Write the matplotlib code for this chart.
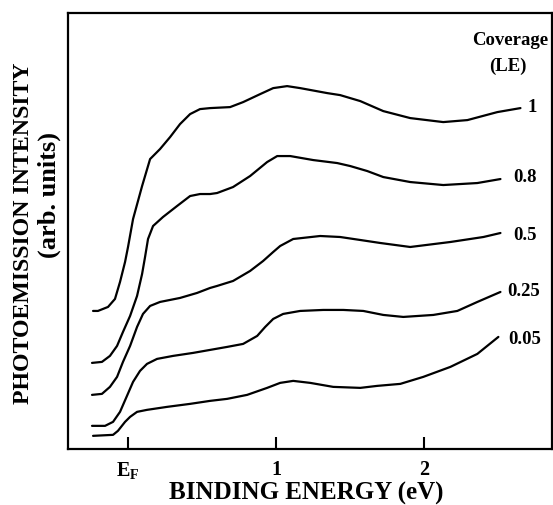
import matplotlib
matplotlib.use("Agg")
import matplotlib.pyplot as plt

plt.rcParams['font.family'] = 'Liberation Serif'
plt.rcParams['font.weight'] = 'bold'
plt.rcParams['mathtext.fontset'] = 'custom'
plt.rcParams['mathtext.rm'] = 'Liberation Serif:bold'
plt.rcParams['mathtext.it'] = 'Liberation Serif:bold'
plt.rcParams['mathtext.bf'] = 'Liberation Serif:bold'

# binding energy (eV, 0 = Fermi level) and intensity (arb. units, offset per coverage)
e_100 = [-0.236, -0.203, -0.135, -0.088, -0.054, -0.020, 0.000, 0.034, 0.095, 0.149,
         0.216, 0.284, 0.351, 0.419, 0.486, 0.554, 0.689, 0.777, 0.892, 0.980,
         1.074, 1.162, 1.345, 1.432, 1.568, 1.723, 1.905, 2.128, 2.291, 2.493, 2.649]
i_100 = [138, 138, 142, 150, 167, 187, 202, 230, 263, 290,
         300, 312, 325, 335, 340, 341, 342, 347, 355, 361,
         363, 361, 356, 354, 348, 338, 331, 327, 329, 337, 341]

e_080 = [-0.243, -0.176, -0.122, -0.074, -0.034, 0.014, 0.061, 0.095, 0.115, 0.135,
         0.169, 0.236, 0.331, 0.419, 0.486, 0.554, 0.601, 0.709, 0.824, 0.939,
         1.007, 1.095, 1.250, 1.412, 1.500, 1.615, 1.723, 1.905, 2.128, 2.358, 2.514]
i_080 = [86, 87, 93, 103, 117, 133, 153, 175, 192, 210,
         223, 232, 243, 253, 255, 255, 256, 262, 273, 287,
         293, 293, 289, 286, 283, 278, 272, 267, 264, 266, 270]

e_050 = [-0.243, -0.176, -0.122, -0.074, -0.034, 0.014, 0.061, 0.101, 0.149, 0.216,
         0.351, 0.466, 0.554, 0.601, 0.709, 0.824, 0.912, 0.980, 1.027, 1.115,
         1.297, 1.432, 1.568, 1.703, 1.905, 2.176, 2.399, 2.514]
i_050 = [54, 55, 62, 72, 87, 103, 122, 135, 143, 147,
         151, 156, 161, 163, 168, 178, 188, 197, 203, 210,
         213, 212, 209, 206, 202, 207, 212, 216]

e_025 = [-0.243, -0.155, -0.101, -0.054, -0.007, 0.034, 0.081, 0.128, 0.196, 0.304,
         0.439, 0.554, 0.669, 0.777, 0.872, 0.926, 0.980, 1.047, 1.162, 1.318,
         1.453, 1.588, 1.723, 1.858, 2.061, 2.223, 2.358, 2.514]
i_025 = [23, 23, 27, 37, 53, 67, 78, 85, 90, 93,
         96, 99, 102, 105, 113, 122, 130, 135, 138, 139,
         139, 138, 134, 132, 134, 138, 147, 157]

e_005 = [-0.236, -0.101, -0.068, -0.020, 0.014, 0.061, 0.128, 0.264, 0.419, 0.554,
         0.669, 0.804, 0.939, 1.027, 1.115, 1.230, 1.385, 1.568, 1.682, 1.838,
         1.993, 2.176, 2.358, 2.500]
i_005 = [13, 14, 18, 27, 32, 37, 39, 42, 45, 48,
         50, 54, 61, 66, 68, 66, 62, 61, 63, 65,
         72, 82, 95, 112]

coverage = ['1', '0.8', '0.5', '0.25', '0.05']
energies = [e_100, e_080, e_050, e_025, e_005]
intens = [i_100, i_080, i_050, i_025, i_005]

# label offsets from each curve end (points)
lab_off = [(5, 1), (9, 2), (9, -1), (5, 1), (7, -1)]

tick_pos = [0, 1, 2]
tick_lab = [r'$\mathregular{E_F}$', '1', '2']

fig = plt.figure(figsize=(5.53, 5.06), dpi=100)
ax = fig.add_axes([0.123, 0.111, 0.876, 0.861])

for e, i, lab, off in zip(energies, intens, coverage, lab_off):
    ax.plot(e, i, color='black', lw=1.6, solid_capstyle='round', solid_joinstyle='round')
    ax.annotate(lab, xy=(e[-1], i[-1]), xytext=off, textcoords='offset points',
                ha='left', va='center', fontsize=13.5, fontweight='bold')

ax.text(0.913, 0.94, 'Coverage', transform=ax.transAxes, ha='center', va='center',
        fontsize=13.5, fontweight='bold')
ax.text(0.909, 0.881, '(LE)', transform=ax.transAxes, ha='center', va='center',
        fontsize=13.5, fontweight='bold')

ax.set_xlim(-0.405, 2.865)
ax.set_ylim(0, 436)
ax.set_xticks(tick_pos)
ax.set_xticklabels(tick_lab, fontsize=14.5, fontweight='bold')
ax.tick_params(axis='x', direction='in', length=9, width=1.5, pad=7)
ax.set_yticks([])
for s in ax.spines.values():
    s.set_linewidth(1.6)

fig.text(0.553, 0.013, 'BINDING ENERGY (eV)', ha='center', va='baseline',
         fontsize=18, fontweight='bold')
fig.text(0.042, 0.54, 'PHOTOEMISSION INTENSITY', rotation=90, ha='center', va='center',
         fontsize=17.2, fontweight='bold')
fig.text(0.089, 0.615, '(arb. units)', rotation=90, ha='center', va='center',
         fontsize=19, fontweight='bold')

fig.savefig('out.png', dpi=100)
